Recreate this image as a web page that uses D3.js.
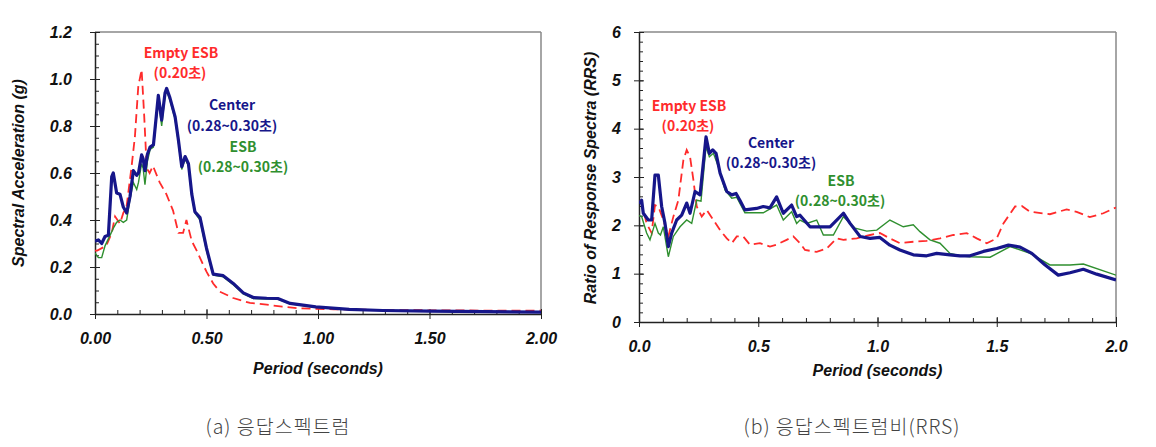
<!DOCTYPE html>
<html><head><meta charset="utf-8">
<script src="https://cdn.jsdelivr.net/npm/d3@7"></script>
<style>
body{margin:0;background:#fff;}
svg{display:block;}
.tick text{font-family:"Liberation Sans",Arial,sans-serif;font-weight:bold;font-style:italic;font-size:16px;fill:#111;}
.ttl{font-family:"Liberation Sans",Arial,sans-serif;font-weight:bold;font-style:italic;font-size:16px;fill:#111;}
.ann{font-family:"Noto Sans CJK KR","Noto Sans",sans-serif;font-weight:bold;font-size:14px;}
.cap{font-family:"Noto Sans CJK KR",sans-serif;font-weight:300;font-size:19.5px;letter-spacing:1px;fill:#444;}
</style></head><body>
<svg id="c" width="1156" height="447"></svg>
<script>
// ---------- data: (a) response spectrum, [period s, Sa g] ----------
const saCenter = [[0.00,0.31],[0.015,0.315],[0.03,0.30],[0.045,0.33],[0.06,0.335],[0.075,0.585],[0.082,0.60],[0.097,0.515],[0.112,0.51],[0.127,0.455],[0.142,0.43],[0.157,0.50],[0.172,0.61],[0.187,0.59],[0.195,0.60],[0.209,0.677],[0.216,0.66],[0.224,0.61],[0.235,0.68],[0.247,0.71],[0.262,0.72],[0.284,0.93],[0.299,0.825],[0.314,0.94],[0.321,0.96],[0.336,0.92],[0.359,0.84],[0.374,0.74],[0.389,0.627],[0.404,0.67],[0.419,0.64],[0.434,0.51],[0.448,0.435],[0.471,0.41],[0.50,0.28],[0.53,0.17],[0.575,0.163],[0.62,0.13],[0.665,0.09],[0.71,0.07],[0.77,0.067],[0.82,0.066],[0.875,0.045],[0.99,0.03],[1.14,0.02],[1.29,0.015],[1.5,0.012],[1.75,0.01],[2.0,0.008]];
const saESB = [[0.0,0.26],[0.015,0.24],[0.03,0.24],[0.045,0.29],[0.07,0.34],[0.085,0.37],[0.097,0.39],[0.112,0.40],[0.127,0.39],[0.142,0.40],[0.157,0.49],[0.172,0.56],[0.187,0.53],[0.195,0.56],[0.209,0.64],[0.216,0.62],[0.224,0.55],[0.235,0.65],[0.247,0.70],[0.262,0.71],[0.284,0.91],[0.299,0.80],[0.314,0.93],[0.321,0.95],[0.336,0.91],[0.359,0.83],[0.374,0.73],[0.389,0.615],[0.404,0.66],[0.419,0.63],[0.434,0.50],[0.448,0.43],[0.471,0.40],[0.50,0.27],[0.53,0.165],[0.575,0.158],[0.62,0.125],[0.665,0.085],[0.71,0.066],[0.77,0.064],[0.82,0.063],[0.875,0.043],[0.99,0.028],[1.14,0.02],[1.29,0.015],[1.5,0.012],[1.75,0.01],[2.0,0.008]];
const saEmpty = [[0.0,0.27],[0.01,0.27],[0.05,0.29],[0.075,0.345],[0.09,0.415],[0.112,0.385],[0.127,0.43],[0.142,0.46],[0.164,0.627],[0.179,0.755],[0.194,0.967],[0.209,1.04],[0.22,0.855],[0.232,0.62],[0.245,0.60],[0.26,0.63],[0.29,0.56],[0.32,0.51],[0.35,0.44],[0.374,0.345],[0.395,0.345],[0.41,0.40],[0.434,0.31],[0.456,0.27],[0.475,0.23],[0.50,0.18],[0.53,0.13],[0.56,0.095],[0.62,0.068],[0.695,0.047],[0.77,0.04],[0.84,0.031],[0.92,0.024],[1.07,0.02],[1.3,0.017],[1.6,0.015],[2.0,0.014]];

// ---------- data: (b) ratio of response spectra ----------
const rrsCenter = [[0.0,2.45],[0.011,2.52],[0.018,2.25],[0.039,2.11],[0.053,2.11],[0.067,3.04],[0.081,3.04],[0.095,2.39],[0.109,2.04],[0.123,1.56],[0.137,1.84],[0.158,2.11],[0.179,2.21],[0.20,2.46],[0.214,2.25],[0.235,2.70],[0.256,2.63],[0.281,3.83],[0.295,3.49],[0.309,3.56],[0.323,3.49],[0.34,3.08],[0.368,2.70],[0.389,2.63],[0.407,2.66],[0.423,2.52],[0.444,2.32],[0.493,2.35],[0.521,2.39],[0.549,2.36],[0.577,2.59],[0.605,2.25],[0.64,2.42],[0.661,2.18],[0.675,2.21],[0.717,1.97],[0.759,1.97],[0.801,1.97],[0.829,2.11],[0.857,2.25],[0.885,2.04],[0.927,1.77],[0.969,1.73],[1.01,1.75],[1.052,1.59],[1.094,1.49],[1.15,1.39],[1.206,1.37],[1.248,1.42],[1.304,1.39],[1.346,1.37],[1.388,1.37],[1.444,1.46],[1.50,1.52],[1.549,1.59],[1.598,1.55],[1.647,1.42],[1.703,1.18],[1.758,0.97],[1.807,1.02],[1.863,1.09],[1.919,0.99],[2.0,0.87]];
const rrsESB = [[0.0,2.2],[0.011,2.18],[0.032,1.84],[0.046,1.70],[0.067,2.04],[0.081,1.84],[0.09,1.80],[0.102,1.97],[0.123,1.35],[0.144,1.77],[0.172,1.97],[0.20,2.11],[0.221,2.04],[0.242,2.52],[0.26,2.50],[0.281,3.63],[0.295,3.42],[0.312,3.49],[0.333,3.21],[0.361,2.73],[0.389,2.56],[0.41,2.58],[0.444,2.26],[0.521,2.26],[0.577,2.42],[0.605,2.11],[0.64,2.28],[0.661,2.04],[0.675,2.11],[0.703,2.04],[0.745,2.11],[0.773,1.80],[0.815,1.80],[0.857,2.18],[0.906,1.94],[0.955,1.88],[0.997,1.90],[1.052,2.11],[1.108,1.97],[1.15,2.01],[1.178,1.87],[1.22,1.70],[1.262,1.63],[1.304,1.42],[1.346,1.37],[1.388,1.35],[1.472,1.34],[1.556,1.56],[1.64,1.42],[1.723,1.18],[1.807,1.18],[1.863,1.20],[2.0,0.97]];
const rrsEmpty = [[0.0,2.5],[0.011,2.46],[0.032,2.04],[0.053,1.84],[0.067,2.42],[0.081,2.39],[0.102,2.11],[0.123,1.77],[0.144,2.18],[0.165,2.52],[0.186,3.35],[0.20,3.56],[0.214,3.42],[0.228,2.94],[0.242,2.39],[0.263,2.18],[0.284,2.32],[0.312,2.11],[0.34,1.90],[0.368,1.73],[0.389,1.63],[0.41,1.77],[0.437,1.77],[0.465,1.60],[0.507,1.63],[0.549,1.56],[0.577,1.60],[0.619,1.70],[0.647,1.77],[0.675,1.63],[0.696,1.49],[0.745,1.45],[0.787,1.52],[0.829,1.73],[0.857,1.70],[0.913,1.73],[0.969,1.80],[1.01,1.84],[1.052,1.73],[1.094,1.63],[1.15,1.66],[1.206,1.68],[1.262,1.73],[1.318,1.80],[1.374,1.84],[1.416,1.73],[1.458,1.63],[1.50,1.73],[1.528,2.04],[1.577,2.39],[1.605,2.40],[1.64,2.28],[1.723,2.23],[1.793,2.33],[1.835,2.28],[1.89,2.17],[1.947,2.25],[2.0,2.37]];

// ---------- ticks & texts ----------
const xTicksA = [0, 0.5, 1.0, 1.5, 2.0];
const xTickLabelsA = ["0.00","0.50","1.00","1.50","2.00"];
const yTicksA = [0, 0.2, 0.4, 0.6, 0.8, 1.0, 1.2];
const yTickLabelsA = ["0.0","0.2","0.4","0.6","0.8","1.0","1.2"];
const xTicksB = [0, 0.5, 1.0, 1.5, 2.0];
const xTickLabelsB = ["0.0","0.5","1.0","1.5","2.0"];
const yTicksB = [0,1,2,3,4,5,6];
const yTickLabelsB = ["0","1","2","3","4","5","6"];
const captions = ["(a)  응답스펙트럼", "(b)  응답스펙트럼비(RRS)"];

const COL = {empty:"#ff2b2b", center:"#16168a", esb:"#2f8f2f"};
const svg = d3.select("#c");

function panel(cfg){
  const g = svg.append("g");
  const x = d3.scaleLinear().domain([0,2]).range([cfg.x0, cfg.x1]);
  const y = d3.scaleLinear().domain([0,cfg.ymax]).range([cfg.y0, cfg.y1]);
  g.append("line").attr("x1",cfg.x0).attr("x2",cfg.x1).attr("y1",cfg.y1).attr("y2",cfg.y1).attr("stroke","#888").attr("stroke-width",1.5);
  g.append("line").attr("x1",cfg.x1).attr("x2",cfg.x1).attr("y1",cfg.y1).attr("y2",cfg.y0).attr("stroke","#888").attr("stroke-width",1.5);
  const xMinor = d3.range(0,2.0001,0.1);
  g.append("g").attr("transform",`translate(0,${cfg.y0})`)
    .call(d3.axisBottom(x).tickValues(xMinor).tickSize(-4).tickFormat(""))
    .call(s=>s.select(".domain").remove()).selectAll("line").attr("stroke","#222");
  const yMinor = d3.range(0,cfg.ymax+1e-6,cfg.yminor);
  g.append("g").attr("transform",`translate(${cfg.x0},0)`)
    .call(d3.axisLeft(y).tickValues(yMinor).tickSize(-4).tickFormat(""))
    .call(s=>s.select(".domain").remove()).selectAll("line").attr("stroke","#222");
  const xa = g.append("g").attr("transform",`translate(0,${cfg.y0})`)
    .call(d3.axisBottom(x).tickValues(cfg.xt).tickFormat((d,i)=>cfg.xl[i]).tickSize(5).tickPadding(14).tickSizeOuter(0));
  xa.select(".domain").attr("stroke","#222").attr("stroke-width",1.5);
  xa.selectAll(".tick line").attr("y1",-5).attr("stroke","#222");
  const ya = g.append("g").attr("transform",`translate(${cfg.x0},0)`)
    .call(d3.axisLeft(y).tickValues(cfg.yt).tickFormat((d,i)=>cfg.yl[i]).tickSize(5).tickPadding(cfg.ypad).tickSizeOuter(0));
  ya.select(".domain").attr("stroke","#222").attr("stroke-width",1.5);
  ya.selectAll(".tick line").attr("x1",5).attr("stroke","#222");
  g.append("text").attr("class","ttl").attr("text-anchor","middle")
    .attr("x",(cfg.x0+cfg.x1)/2).attr("y",cfg.xtitleY).text("Period (seconds)");
  g.append("text").attr("class","ttl").attr("text-anchor","middle")
    .attr("transform",`translate(${cfg.ytitleX},${cfg.ytitleYc}) rotate(-90)`).text(cfg.ytitle);
  const line = d3.line().x(d=>x(d[0])).y(d=>y(d[1]));
  const clipId = "clip"+cfg.id;
  svg.append("clipPath").attr("id",clipId).append("rect")
    .attr("x",cfg.x0).attr("y",cfg.y1-5).attr("width",cfg.x1-cfg.x0).attr("height",cfg.y0-cfg.y1+5);
  const lg = g.append("g").attr("clip-path",`url(#${clipId})`);
  lg.append("path").datum(cfg.empty).attr("d",line).attr("fill","none").attr("stroke",COL.empty).attr("stroke-width",1.8).attr("stroke-dasharray","9,5");
  lg.append("path").datum(cfg.esb).attr("d",line).attr("fill","none").attr("stroke",COL.esb).attr("stroke-width",1.4);
  lg.append("path").datum(cfg.center).attr("d",line).attr("fill","none").attr("stroke",COL.center).attr("stroke-width",3.2).attr("stroke-linejoin","round");
  cfg.ann.forEach(a=>{
    g.append("text").attr("class","ann").attr("text-anchor","middle").attr("x",a[0]).attr("y",a[1])
      .attr("fill",a[3]).text(a[2]);
  });
  g.append("text").attr("class","cap").attr("text-anchor","middle").attr("x",cfg.capX).attr("y",434).text(cfg.cap);
}

panel({id:"a",x0:95,x1:541,y0:314,y1:32,ymax:1.2,yminor:0.05,
  xt:xTicksA,xl:xTickLabelsA,yt:yTicksA,yl:yTickLabelsA,ypad:18,
  xtitleY:374,ytitleX:24,ytitleYc:173,ytitle:"Spectral Acceleration (g)",
  empty:saEmpty,esb:saESB,center:saCenter,
  ann:[[181,58,"Empty ESB",COL.empty],[180,78,"(0.20초)",COL.empty],
       [232,110,"Center",COL.center],[232,131,"(0.28~0.30초)",COL.center],
       [243,152,"ESB",COL.esb],[243,172,"(0.28~0.30초)",COL.esb]],
  capX:278,cap:captions[0]});

panel({id:"b",x0:639,x1:1116,y0:322,y1:32,ymax:6,yminor:0.2,
  xt:xTicksB,xl:xTickLabelsB,yt:yTicksB,yl:yTickLabelsB,ypad:13,
  xtitleY:376,ytitleX:596,ytitleYc:178,ytitle:"Ratio of Response Spectra (RRS)",
  empty:rrsEmpty,esb:rrsESB,center:rrsCenter,
  ann:[[689,111,"Empty ESB",COL.empty],[688,131,"(0.20초)",COL.empty],
       [771,148,"Center",COL.center],[771,168,"(0.28~0.30초)",COL.center],
       [841,186,"ESB",COL.esb],[840,206,"(0.28~0.30초)",COL.esb]],
  capX:852,cap:captions[1]});
</script>
</body></html>
